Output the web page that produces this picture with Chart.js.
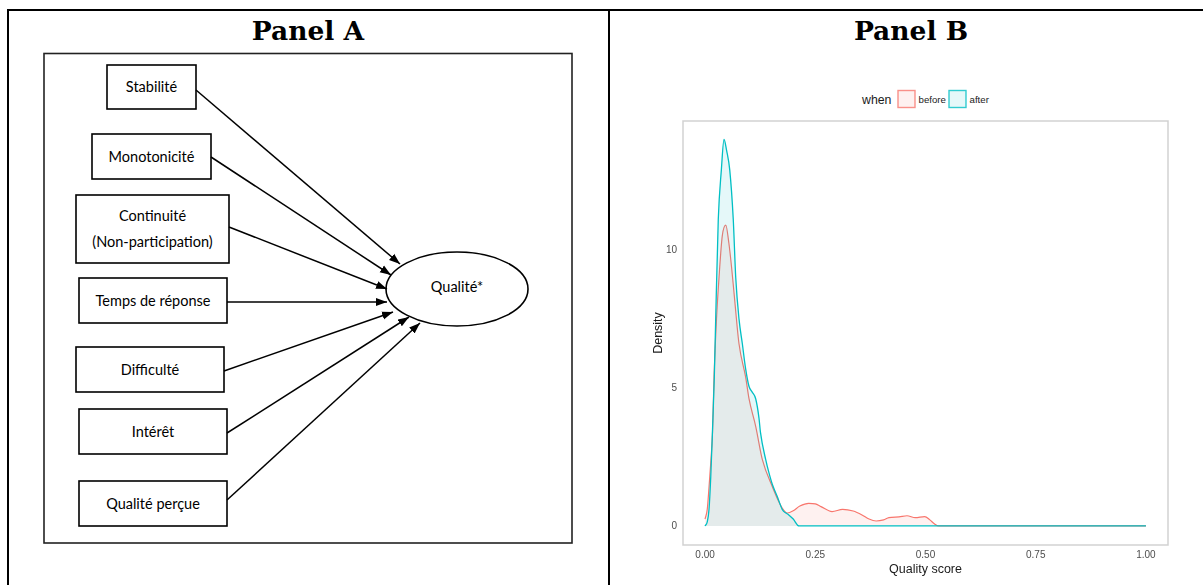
<!DOCTYPE html>
<html><head><meta charset="utf-8">
<script src="https://cdn.jsdelivr.net/npm/chart.js@4.4.0/dist/chart.umd.min.js"></script>
<style>
html,body{margin:0;padding:0;background:#fff;width:1203px;height:585px;overflow:hidden;position:relative}
#page{position:absolute;left:0;top:0}
#chartB{position:absolute;left:611px;top:0}
</style>
</head><body>
<svg id="page" width="1203" height="585" xmlns="http://www.w3.org/2000/svg"></svg>
<canvas id="chartB" width="592" height="585"></canvas>
<script>
// ---------- Data ----------
const panelTitles = ['Panel A', 'Panel B'];
const factorLabels = [['Stabilité'], ['Monotonicité'], ['Continuité', '(Non-participation)'], ['Temps de réponse'], ['Difficulté'], ['Intérêt'], ['Qualité perçue']];
const outcomeLabel = 'Qualité*';

const seriesNames = ['before', 'after'];
const legendTitle = 'when';
const xAxisTitle = 'Quality score';
const yAxisTitle = 'Density';
const qualityTicks = [0, 0.25, 0.5, 0.75, 1];
const densityTicks = [0, 5, 10];

const beforeX = [0, 0.005, 0.009, 0.013, 0.017, 0.0204, 0.026, 0.0317, 0.039, 0.047, 0.054, 0.060, 0.066, 0.077, 0.092, 0.0998, 0.115, 0.13, 0.1527, 0.175, 0.187, 0.2, 0.215, 0.235, 0.25, 0.263, 0.288, 0.312, 0.336, 0.356, 0.372, 0.388, 0.405, 0.417, 0.44, 0.458, 0.477, 0.498, 0.51, 0.52, 0.53, 0.75, 1.0];
const beforeY = [0.25, 0.6, 1.4, 2.3, 3.4, 5.4, 7.5, 9.0, 10.5, 10.9, 10.25, 9.4, 8.4, 6.6, 5.4, 4.6, 3.6, 2.4, 1.42, 0.65, 0.47, 0.55, 0.72, 0.82, 0.8, 0.7, 0.52, 0.6, 0.54, 0.4, 0.25, 0.18, 0.22, 0.3, 0.33, 0.37, 0.3, 0.34, 0.22, 0.08, 0, 0, 0];

const afterX = [0, 0.005, 0.009, 0.013, 0.017, 0.021, 0.024, 0.030, 0.037, 0.043, 0.049, 0.056, 0.064, 0.0696, 0.077, 0.0846, 0.092, 0.0998, 0.107, 0.115, 0.1224, 0.1256, 0.1376, 0.145, 0.1527, 0.164, 0.175, 0.179, 0.19, 0.2, 0.213, 0.5, 0.75, 1.0];
const afterY = [0, 0.15, 0.6, 1.8, 3.5, 5.4, 7.4, 11.1, 12.9, 14.0, 13.6, 12.9, 11.1, 9.0, 7.5, 6.6, 5.7, 5.05, 4.85, 4.6, 3.9, 3.4, 2.4, 1.92, 1.5, 1.06, 0.6, 0.52, 0.4, 0.25, 0, 0, 0, 0];

// ---------- Static page: table + diagram (SVG) ----------
const NS = 'http://www.w3.org/2000/svg';
const svg = document.getElementById('page');
function el(tag, attrs, text) {
  const e = document.createElementNS(NS, tag);
  for (const k in attrs) e.setAttribute(k, attrs[k]);
  if (text !== undefined) e.textContent = text;
  svg.appendChild(e);
  return e;
}
const defs = el('defs', {});
const marker = document.createElementNS(NS, 'marker');
marker.setAttribute('id', 'ah');
marker.setAttribute('markerUnits', 'userSpaceOnUse');
marker.setAttribute('markerWidth', '12');
marker.setAttribute('markerHeight', '10');
marker.setAttribute('refX', '11');
marker.setAttribute('refY', '4.5');
marker.setAttribute('orient', 'auto');
const mp = document.createElementNS(NS, 'path');
mp.setAttribute('d', 'M0,0.5 L11,4.5 L0,8.5 z');
mp.setAttribute('fill', '#000');
marker.appendChild(mp);
defs.appendChild(marker);

// table borders
el('rect', {x: 7, y: 9, width: 1196, height: 2, fill: '#000'});
el('rect', {x: 7, y: 9, width: 2, height: 576, fill: '#000'});
el('rect', {x: 608, y: 9, width: 2, height: 576, fill: '#000'});

// panel titles
const titleCenters = [308, 911];
panelTitles.forEach((t, i) => el('text', {x: titleCenters[i], y: 40, 'text-anchor': 'middle', 'font-family': 'DejaVu Serif', 'font-weight': 'bold', 'font-size': 26.5, fill: '#000'}, t));

// diagram frame
el('rect', {x: 44, y: 53.5, width: 528, height: 489.5, fill: 'none', stroke: '#222', 'stroke-width': 1.6});

const boxLayout = [[107, 65, 89, 44], [92, 134, 119, 45], [76, 195, 153, 68], [79, 278, 148, 45], [76, 347, 148, 45], [79, 409, 148, 45], [79, 481, 148, 45]];
const arrowStart = [[196, 90], [211, 157], [229, 227], [227, 302], [224, 371], [227, 433], [227, 500]];
const arrowTip = [[400, 264], [391, 275], [387, 289], [387, 302], [393, 312], [409, 317], [420, 323]];

factorLabels.forEach((lines, i) => {
  const [x, y, w, h] = boxLayout[i];
  el('rect', {x, y, width: w, height: h, fill: '#fff', stroke: '#000', 'stroke-width': 1.6});
  const cx = x + w / 2, cy = y + h / 2;
  const lh = 26;
  lines.forEach((ln, j) => {
    const ty = cy + (j - (lines.length - 1) / 2) * lh + 5;
    el('text', {x: cx, y: ty, 'text-anchor': 'middle', 'font-family': 'Lato', 'font-size': 14.5, fill: '#000'}, ln);
  });
  el('line', {x1: arrowStart[i][0], y1: arrowStart[i][1], x2: arrowTip[i][0], y2: arrowTip[i][1], stroke: '#000', 'stroke-width': 1.5, 'marker-end': 'url(#ah)'});
});
el('ellipse', {cx: 457, cy: 289, rx: 71, ry: 37, fill: 'none', stroke: '#000', 'stroke-width': 1.6});
el('text', {x: 457, y: 292, 'text-anchor': 'middle', 'font-family': 'Lato', 'font-size': 14.5, fill: '#000'}, outcomeLabel);

// ---------- Panel B legend ----------
const lineColors = ['#F8766D', '#00BFC4'];
const fillColors = ['rgba(248,118,109,0.1)', 'rgba(0,191,196,0.1)'];
el('text', {x: 862, y: 104, 'font-family': 'Liberation Sans', 'font-size': 12.3, fill: '#1a1a1a'}, legendTitle);
const legendBoxX = [898, 949];
seriesNames.forEach((name, i) => {
  el('rect', {x: legendBoxX[i], y: 90.5, width: 17, height: 17, fill: fillColors[i], stroke: lineColors[i], 'stroke-width': 1.4, 'stroke-opacity': 0.8});
  el('text', {x: legendBoxX[i] + 20.5, y: 102.5, 'font-family': 'Liberation Sans', 'font-size': 9.7, fill: '#1a1a1a'}, name);
});

// ---------- Panel B chart ----------
const toPts = (xs, ys) => xs.map((x, i) => ({x, y: ys[i]}));
const framePlugin = {
  id: 'frame',
  beforeDatasetsDraw(chart) {
    const {ctx, chartArea: a} = chart;
    ctx.save();
    ctx.strokeStyle = '#d2d2d2';
    ctx.lineWidth = 1.5;
    ctx.strokeRect(a.left, a.top, a.right - a.left, a.bottom - a.top);
    ctx.restore();
  }
};
new Chart(document.getElementById('chartB'), {
  type: 'line',
  data: {
    datasets: [
      {label: seriesNames[0], data: toPts(beforeX, beforeY), borderColor: lineColors[0], backgroundColor: fillColors[0], fill: 'origin', borderWidth: 1.2, pointRadius: 0, cubicInterpolationMode: 'monotone', order: 2},
      {label: seriesNames[1], data: toPts(afterX, afterY), borderColor: lineColors[1], backgroundColor: fillColors[1], fill: 'origin', borderWidth: 1.3, pointRadius: 0, cubicInterpolationMode: 'monotone', order: 1}
    ]
  },
  options: {
    responsive: false,
    animation: false,
    devicePixelRatio: 1,
    layout: {padding: {left: 0, right: 35, top: 121, bottom: 0}},
    plugins: {legend: {display: false}, tooltip: {enabled: false}},
    scales: {
      x: {
        type: 'linear', min: -0.05, max: 1.05,
        grid: {display: false, drawTicks: false}, border: {display: false},
        afterBuildTicks: s => { s.ticks = qualityTicks.map(v => ({value: v})); },
        afterFit: s => { s.height = 40; },
        ticks: {callback: v => Number(v).toFixed(2), color: '#4d4d4d', font: {family: 'Liberation Sans', size: 10}, padding: 4, maxRotation: 0, autoSkip: false},
        title: {display: true, text: xAxisTitle, color: '#1a1a1a', font: {family: 'Liberation Sans', size: 12.5}, padding: {top: 0, bottom: 8}}
      },
      y: {
        type: 'linear', min: -0.69, max: 14.67,
        grid: {display: false, drawTicks: false}, border: {display: false},
        afterBuildTicks: s => { s.ticks = densityTicks.map(v => ({value: v})); },
        afterFit: s => { s.width = 72; },
        ticks: {callback: v => String(v), color: '#4d4d4d', font: {family: 'Liberation Sans', size: 10}, padding: 6},
        title: {display: true, text: yAxisTitle, color: '#1a1a1a', font: {family: 'Liberation Sans', size: 12.5}, padding: {top: 40, bottom: 0}}
      }
    }
  },
  plugins: [framePlugin]
});
</script>
</body></html>
